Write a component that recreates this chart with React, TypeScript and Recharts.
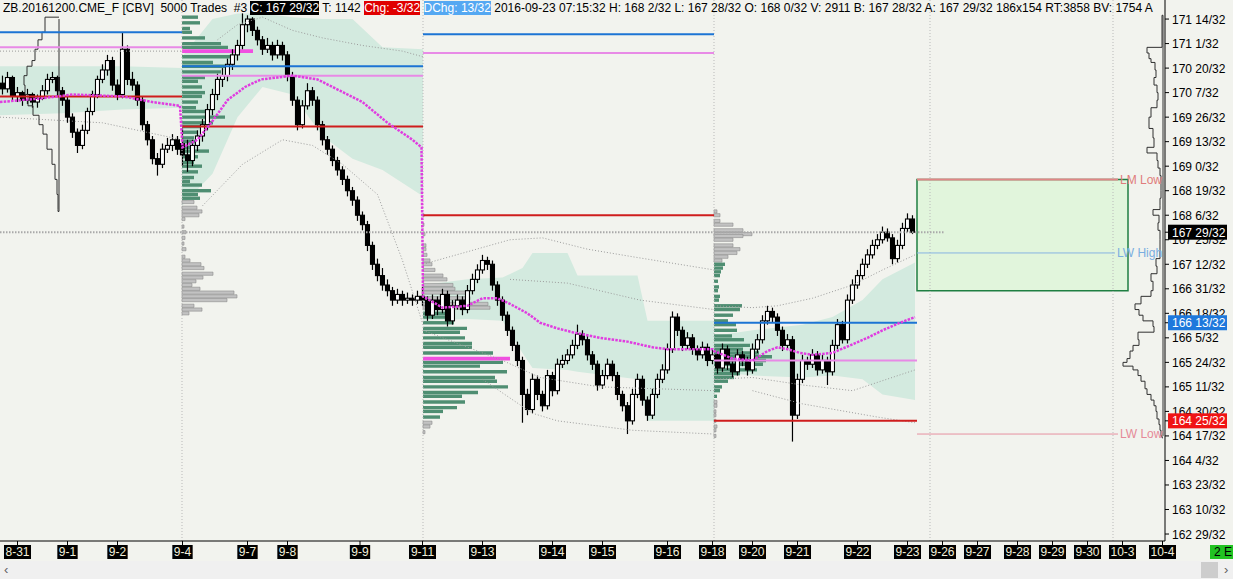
import { ComposedChart, Bar, Line, Area, XAxis, YAxis, ReferenceLine, ReferenceArea } from 'recharts';

// prices are kept in 32nds above the 162 handle (ZB tick = 1/32)
const HANDLE = 162;
const VOL_SCALE = 0.2; // profile volume -> bar slots

const dateTicks = [3, 13, 23, 36, 49, 57, 71.5, 84, 96, 110, 120, 133, 142, 150, 159, 171, 181, 188, 195, 203, 210, 217, 224, 232];
const dateLabels = ['8-31', '9-1', '9-2', '9-4', '9-7', '9-8', '9-9', '9-11', '9-13', '9-14', '9-15', '9-16', '9-18', '9-20', '9-21', '9-22', '9-23', '9-26', '9-27', '9-28', '9-29', '9-30', '10-3', '10-4'];
const priceTicks = [29, 42, 55, 68, 81, 94, 107, 120, 133, 146, 159, 172, 185, 198, 211, 224, 237, 250, 263, 276, 289, 302];
const markedPrices = [189, 141, 89];
const markedColors = ['#000000', '#1e78dc', '#f01414'];

const weekStarts = [0, 36, 84, 142];
const weekEdges = [-0.5, 35.9, 84.1, 142.3, 182.9];
const sessionLines = [35.9, 84.1, 142.3, 185.5, 222.1];

// [open, high, low, close]
const candlesAug28 = [
  [268, 272, 262, 265], [265, 274, 263, 271], [271, 272, 259, 261], [261, 266, 258, 263], [263, 264, 256, 259],
  [259, 265, 257, 262], [262, 263, 255, 258], [258, 262, 255, 260], [260, 267, 259, 264], [264, 273, 262, 270],
  [270, 274, 268, 271], [271, 272, 261, 264], [264, 266, 256, 259], [259, 261, 247, 250], [250, 252, 239, 242],
  [242, 244, 231, 235], [235, 246, 233, 243], [243, 255, 241, 253], [253, 264, 251, 262], [262, 272, 260, 270],
  [270, 278, 268, 275], [275, 283, 272, 280], [280, 282, 264, 267], [267, 270, 259, 262], [262, 295, 260, 286],
  [286, 288, 267, 270], [270, 274, 264, 267], [267, 269, 256, 259], [259, 261, 243, 246], [246, 248, 235, 238],
  [238, 240, 225, 228], [228, 231, 219, 225], [225, 236, 223, 233], [233, 239, 231, 235], [235, 241, 232, 238],
  [238, 240, 230, 233],
];
const candlesSep4 = [
  [236, 244, 224, 230], [230, 238, 221, 227], [227, 238, 224, 235], [235, 243, 232, 240], [240, 249, 237, 246],
  [246, 257, 243, 254], [254, 265, 251, 262], [262, 273, 259, 270], [270, 276, 266, 272], [272, 281, 269, 278],
  [278, 286, 275, 283], [283, 291, 280, 288], [288, 305, 286, 299], [299, 304, 295, 302], [302, 303, 293, 296],
  [296, 298, 288, 291], [291, 293, 283, 286], [286, 292, 284, 288], [288, 290, 280, 283], [283, 291, 281, 288],
  [288, 290, 280, 283], [283, 285, 269, 272], [272, 274, 256, 259], [259, 261, 243, 246], [246, 259, 244, 256],
  [256, 268, 254, 264], [264, 266, 256, 259], [259, 261, 243, 246], [246, 248, 235, 238], [238, 240, 230, 233],
  [233, 235, 224, 227], [227, 229, 219, 222], [222, 224, 214, 217], [217, 219, 208, 211], [211, 213, 203, 206],
  [206, 208, 195, 198], [198, 200, 190, 193], [193, 195, 179, 182], [182, 184, 169, 172], [172, 175, 163, 166],
  [166, 170, 158, 161], [161, 164, 155, 158], [158, 160, 150, 153], [153, 159, 151, 156], [156, 158, 150, 153],
  [153, 157, 151, 154], [154, 156, 150, 153], [153, 158, 151, 155],
];
const candlesSep11 = [
  [155, 160, 150, 153], [153, 155, 142, 145], [145, 156, 143, 153], [153, 155, 145, 148], [148, 159, 146, 156],
  [156, 158, 139, 142], [142, 153, 140, 150], [150, 156, 148, 153], [153, 155, 145, 148], [148, 161, 146, 158],
  [158, 167, 156, 164], [164, 172, 162, 169], [169, 177, 167, 174], [174, 176, 169, 172], [172, 174, 158, 161],
  [161, 163, 150, 153], [153, 155, 142, 145], [145, 147, 134, 137], [137, 139, 126, 129], [129, 131, 118, 121],
  [121, 123, 88, 103], [103, 106, 92, 95], [95, 114, 93, 111], [111, 113, 100, 103], [103, 105, 94, 97],
  [97, 116, 95, 113], [113, 115, 102, 105], [105, 122, 103, 119], [119, 124, 117, 121], [121, 127, 119, 124],
  [124, 132, 122, 129], [129, 140, 127, 135], [135, 137, 129, 132], [132, 134, 121, 124], [124, 126, 116, 119],
  [119, 121, 105, 108], [108, 116, 106, 113], [113, 122, 111, 119], [119, 121, 110, 113], [113, 115, 100, 103],
  [103, 105, 94, 97], [97, 99, 82, 89], [89, 106, 87, 103], [103, 114, 101, 111], [111, 113, 97, 100],
  [100, 102, 89, 92], [92, 106, 90, 103], [103, 114, 101, 111], [111, 119, 109, 116], [116, 130, 114, 127],
  [127, 147, 125, 144], [144, 146, 134, 137], [137, 139, 126, 129], [129, 136, 127, 133], [133, 135, 124, 127],
  [127, 129, 121, 124], [124, 131, 122, 128], [128, 130, 118, 121],
];
const candlesSep18 = [
  [121, 127, 119, 124], [124, 126, 114, 117], [117, 130, 115, 127], [127, 129, 116, 119], [119, 121, 112, 115],
  [115, 127, 113, 124], [124, 126, 118, 121], [121, 123, 113, 116], [116, 130, 114, 127], [127, 135, 125, 132],
  [132, 145, 130, 142], [142, 150, 140, 147], [147, 149, 141, 144], [144, 146, 134, 137], [137, 139, 126, 129],
  [129, 135, 127, 132], [132, 134, 78, 92], [92, 114, 90, 111], [111, 124, 109, 121], [121, 123, 116, 119],
  [119, 127, 117, 124], [124, 126, 113, 116], [116, 124, 114, 121], [121, 123, 108, 115], [115, 132, 113, 129],
  [129, 143, 127, 140], [140, 142, 130, 132], [132, 156, 130, 153], [153, 164, 151, 161], [161, 169, 159, 166],
  [166, 175, 164, 172], [172, 180, 170, 177], [177, 185, 175, 182], [182, 188, 180, 185], [185, 192, 183, 189],
  [189, 191, 184, 186], [186, 188, 172, 175], [175, 185, 173, 182], [182, 194, 180, 191], [191, 199, 189, 196],
  [196, 198, 188, 189],
];

// shaded 1-sigma zone per week: [slot, low, high]
const bandAug28 = [[-0.5, 251, 277], [12, 252, 277], [24, 254, 277], [35.9, 255, 276]];
const bandSep4 = [[35.9, 203, 282], [42, 220, 302], [47, 250, 305], [52, 266, 305], [58, 262, 303], [64, 240, 302], [70, 228, 302], [76, 222, 287], [84.1, 208, 286]];
const bandSep11 = [[84.1, 142, 161], [93, 143, 164], [100, 142, 165], [104, 125, 170], [106, 117, 178], [113, 116, 178], [115, 115, 166], [127, 111, 166], [129, 89, 142], [142.3, 89, 142]];
const bandSep18 = [[142.3, 115, 134], [150, 113, 137], [160, 112, 140], [166, 113, 144], [172, 111, 153], [176, 103, 164], [182.5, 100, 173]];

// dotted deviation lines: [slot, price]
const devLines = [
  [[-0.5, 285], [35.9, 285]],
  [[-0.5, 250], [20, 247], [35.9, 238]],
  [[43, 291], [47, 299], [52, 303], [58, 296], [64, 292], [72, 288], [80, 285], [84.1, 282]],
  [[40, 203], [48, 225], [56, 238], [62, 235], [68, 225], [75, 209], [80, 174], [84.1, 140]],
  [[84.1, 172], [101.5, 185], [108, 186], [117, 180], [126, 176], [142.3, 169]],
  [[101.5, 164], [113, 162], [127.5, 153], [142.3, 148]],
  [[84.1, 137], [100, 121], [107.5, 112], [119.5, 107], [142.3, 105]],
  [[96, 111], [106, 93], [111, 89], [126, 84], [142.3, 82]],
  [[142.3, 150], [150, 149], [155, 150], [162, 154], [170, 161], [176, 169], [182.5, 177]],
  [[142.3, 111], [150, 112], [160, 108], [170, 105], [182.5, 116]],
  [[150, 105], [160, 98], [175, 91], [182.5, 88]],
];

// weekly VWAP
const vwap = [
  [-0.5, 258], [8, 260], [14, 262], [24, 261], [30, 258], [35.5, 256],
  [36, 234], [39, 238], [42, 248], [45, 259], [48.5, 266], [51.7, 270], [55, 271], [58, 272], [63, 270], [67.5, 264], [72, 258], [77, 247], [82, 238], [83.8, 234],
  [84.1, 155], [88, 149], [93, 150], [96, 154], [99, 154], [101.5, 151], [105, 146], [107.5, 141], [111, 138], [114, 136], [119.5, 133], [125, 131], [130, 128], [133, 127], [138, 127], [142, 127],
  [142.3, 126], [146, 122], [150, 121], [153, 126], [155, 128], [157, 127], [159.5, 125], [162, 124], [166, 125], [169.5, 129], [173, 133], [176, 137], [179.5, 141], [182.5, 144],
];

// prior-week levels, one per week
const blueLevels = [295, 277, 294, 141];
const pinkLevels = [287, 272, 284, 121];
const redLevels = [261, 245, 198, 89];

// volume profiles: [price, volume]
const sep4Value = [[303, 16], [300, 18], [297, 8], [295, 10], [292, 23], [289, 39], [287, 46], [282, 51], [279, 31], [277, 45], [274, 39], [271, 23], [269, 16], [266, 20], [263, 23], [261, 20], [258, 16], [255, 14], [253, 23], [250, 43], [247, 31], [245, 20], [242, 16], [239, 12], [237, 18], [234, 8], [232, 27], [229, 16], [226, 12], [224, 20], [221, 16], [218, 12], [216, 8], [214, 20], [211, 29], [209, 16], [207, 18]];
const sep4Outer = [[205, 12], [202, 15], [200, 20], [198, 17], [196, 3], [192, 2], [189, 4], [186, 3], [183, 2], [180, 4], [176, 3], [174, 8], [172, 19], [170, 22], [167, 31], [165, 21], [163, 14], [161, 10], [159, 18], [157, 52], [155, 55], [153, 45], [150, 12], [148, 20], [146, 7]];
const sep4Poc = [[285, 71]];
const sep11Value = [[146, 30], [144, 30], [141, 31], [138, 44], [136, 37], [133, 42], [130, 49], [128, 49], [125, 70], [120, 80], [118, 57], [115, 84], [112, 72], [110, 74], [107, 85], [104, 55], [102, 39], [99, 42], [96, 34], [94, 20], [91, 17]];
const sep11Outer = [[198, 1], [193, 1], [188, 2], [182, 3], [180, 3], [177, 4], [174, 7], [172, 9], [169, 12], [166, 20], [164, 24], [161, 30], [159, 32], [157, 44], [154, 47], [151, 65], [149, 67], [88, 9], [86, 7], [83, 2]];
const sep11Poc = [[122, 87]];
const sep18Value = [[172, 11], [170, 9], [168, 7], [166, 6], [163, 4], [160, 5], [158, 4], [155, 6], [153, 5], [150, 28], [148, 26], [145, 19], [142, 14], [140, 22], [137, 23], [134, 18], [132, 30], [129, 36], [127, 29], [125, 45], [123, 58], [121, 52], [119, 49], [116, 43], [114, 26], [112, 20], [110, 14], [107, 8], [105, 6], [102, 3]];
const sep18Outer = [[200, 3], [198, 6], [195, 6], [193, 19], [190, 29], [188, 38], [187, 29], [185, 19], [182, 19], [180, 26], [178, 23], [176, 14], [174, 8], [99, 3], [97, 3], [94, 2], [92, 2], [89, 2], [86, 3], [84, 2], [81, 2]];

// outlined profiles (prior week on the left, whole view on the right)
const leftProfile = [[303, 14], [295, 17], [291, 21], [286, 24], [280, 27], [277, 32], [272, 35], [267, 34], [262, 31], [256, 26], [251, 20], [246, 16], [241, 12], [233, 7], [225, 4], [217, 2], [209, 1], [201, 1]];
const rightProfile = [[304, 1], [288, 1], [287, 16], [284, 14], [281, 12], [279, 8], [275, 7], [271, 9], [267, 6], [263, 5], [259, 6], [255, 12], [250, 14], [244, 10], [239, 9], [234, 16], [231, 6], [227, 5], [223, 3], [219, 2], [215, 2], [211, 2], [207, 3], [203, 3], [201, 10], [198, 4], [194, 5], [190, 3], [185, 3], [180, 3], [175, 7], [171, 6], [167, 12], [163, 10], [158, 12], [155, 22], [151, 28], [148, 24], [145, 20], [142, 10], [139, 9], [136, 25], [132, 24], [129, 30], [126, 33], [122, 36], [120, 40], [118, 30], [116, 25], [113, 22], [110, 18], [106, 16], [103, 12], [100, 9], [97, 7], [94, 6], [90, 4], [87, 3], [84, 2], [81, 1]];
const leftProfileBase = 11.3;
const rightProfileBase = 232.1;

// targets for next week
const lastPrice = 189;
const lmLow = 217;
const lwHigh = 178;
const lwLow = 82;
const boxBottom = 158;

const PAPER = '#f2f3ee';
const TEAL = '#d3eadf';
const BLUE = '#1c74d4';
const PINK = '#e88ae6';
const RED = '#cf1d1d';
const GREEN_BAR = '#4f8e72';
const GRAY_BAR = '#c2c2c2';
const POC = '#f050e0';
const FONT = '"Liberation Sans", Arial, sans-serif';

const candleRows = [candlesAug28, candlesSep4, candlesSep11, candlesSep18].flatMap((wk, w) =>
  wk.map(([o, h, l, c], k) => ({ i: weekStarts[w] + k, o, h, l, c, range: [l, h] }))
);
const bandRows = [bandAug28, bandSep4, bandSep11, bandSep18].map((b) => b.map(([i, lo, hi]) => ({ i, band: [lo, hi] })));
const devRows = devLines.map((d) => d.map(([i, v]) => ({ i, v })));
const vwapRows = vwap.map(([i, v]) => ({ i, v }));

const profiles = [
  { base: weekEdges[1], value: sep4Value, outer: sep4Outer, poc: sep4Poc },
  { base: weekEdges[2], value: sep11Value, outer: sep11Outer, poc: sep11Poc },
  { base: weekEdges[3], value: sep18Value, outer: sep18Outer, poc: [] as number[][] },
];

function outline(rows: number[][], base: number) {
  const pts = [{ i: base, v: rows[0][0] }];
  rows.forEach(([t, w], k) => {
    const next = k + 1 < rows.length ? rows[k + 1][0] : t - 1;
    const xi = base - w * VOL_SCALE;
    pts.push({ i: xi, v: t }, { i: xi, v: next });
  });
  pts.push({ i: base, v: rows[rows.length - 1][0] - 1 });
  return pts;
}

function fmtPrice(t: number) {
  return `${HANDLE + Math.floor(t / 32)} ${t % 32}/32`;
}

function Candle(props: any) {
  const { x, y, width, height, payload } = props;
  if (x == null || y == null) return null;
  const cx = x + width / 2;
  const span = payload.h - payload.l;
  const k = span > 0 ? height / span : 0;
  const yO = y + (payload.h - payload.o) * k;
  const yC = y + (payload.h - payload.c) * k;
  const up = payload.c >= payload.o;
  return (
    <g>
      <line x1={cx} x2={cx} y1={y} y2={y + height} stroke="#000" strokeWidth={1.2} />
      <rect x={cx - 2} y={Math.min(yO, yC)} width={4} height={Math.max(Math.abs(yC - yO), 1)} fill={up ? '#fff' : '#000'} stroke="#000" strokeWidth={1.1} />
    </g>
  );
}

function DateTick(props: any) {
  const { x, y, payload } = props;
  const label = dateLabels[dateTicks.indexOf(payload.value)] ?? '';
  const w = label.split('').reduce((s: number, ch: string) => s + (ch === '-' ? 4 : 6.67), 0) + 3;
  return (
    <g>
      <line x1={x} x2={x} y1={y - 4} y2={y} stroke="#000" />
      <rect x={x - w / 2} y={y} width={w} height={14} fill="#000" />
      <text x={x} y={y + 11} textAnchor="middle" fill="#f2f0dc" fontSize={12} fontFamily={FONT}>{label}</text>
    </g>
  );
}

function PriceTick(props: any) {
  const { x, y, payload } = props;
  const m = markedPrices.indexOf(payload.value);
  if (m >= 0) {
    return (
      <g>
        <rect x={x - 4} y={y - 7.5} width={59} height={15} fill={markedColors[m]} />
        <text x={x} y={y + 4.5} fill="#fff" fontSize={12} fontFamily={FONT}>{fmtPrice(payload.value)}</text>
      </g>
    );
  }
  return <text x={x} y={y + 4.5} fill="#000" fontSize={12} fontFamily={FONT}>{fmtPrice(payload.value)}</text>;
}

function hline(key: string, x1: number, x2: number, y: number, stroke: string, width: number, label?: any, dash?: string) {
  return (
    <ReferenceLine key={key} segment={[{ x: x1, y }, { x: x2, y }]} stroke={stroke} strokeWidth={width} strokeDasharray={dash} ifOverflow="visible" label={label} />
  );
}

const boxStyle = (bg: string, fg: string) => ({ background: bg, color: fg });

export default function App() {
  return (
    <div style={{ position: 'fixed', left: 0, top: 0, width: 1233, height: 579, background: PAPER, overflow: 'hidden', fontFamily: FONT }}>
      <ComposedChart width={1233} height={560} data={candleRows} margin={{ top: 0, right: 0, bottom: 0, left: 0 }}>
        <XAxis type="number" dataKey="i" domain={[-0.5, 232.5]} allowDataOverflow ticks={dateTicks} interval={0}
          tick={(p: any) => <DateTick {...p} />} tickLine={false} tickSize={4} tickMargin={0} axisLine={{ stroke: '#000' }} height={19} />
        <YAxis type="number" orientation="right" domain={[25.3, 312.1]} allowDataOverflow ticks={[...priceTicks, ...markedPrices]} interval={0}
          tick={(p: any) => <PriceTick {...p} />} tickSize={4} tickMargin={3} axisLine={{ stroke: '#000' }} tickLine={{ stroke: '#000' }} width={68} />

        {bandRows.map((rows, k) => (
          <Area key={`band${k}`} data={rows} dataKey="band" type="linear" fill={TEAL} fillOpacity={1} stroke="none" dot={false} activeDot={false} isAnimationActive={false} />
        ))}
        {devRows.map((rows, k) => (
          <Line key={`dev${k}`} data={rows} dataKey="v" type="linear" stroke="#9c9c9c" strokeWidth={1} strokeDasharray="1 2" dot={false} activeDot={false} isAnimationActive={false} />
        ))}
        {sessionLines.map((x) => (
          <ReferenceLine key={`s${x}`} x={x} stroke="#b9b9b9" strokeDasharray="1 2" />
        ))}

        {profiles.flatMap((p, w) => [
          ...p.outer.map(([t, v], k) => (
            <ReferenceArea key={`po${w}-${k}`} x1={p.base} x2={p.base + v * VOL_SCALE} y1={t - 0.85} y2={t + 0.85} fill={GRAY_BAR} fillOpacity={1} stroke="#8c8c8c" strokeWidth={0.6} ifOverflow="visible" />
          )),
          ...p.value.map(([t, v], k) => (
            <ReferenceArea key={`pv${w}-${k}`} x1={p.base} x2={p.base + v * VOL_SCALE} y1={t - 0.9} y2={t + 0.9} fill={GREEN_BAR} fillOpacity={1} stroke="none" ifOverflow="visible" />
          )),
          ...p.poc.map(([t, v], k) => (
            <ReferenceArea key={`pp${w}-${k}`} x1={p.base} x2={p.base + v * VOL_SCALE} y1={t - 1} y2={t + 1} fill={POC} fillOpacity={1} stroke="none" ifOverflow="visible" />
          )),
        ])}

        <Line data={outline(leftProfile, leftProfileBase)} dataKey="v" type="linear" stroke="#303030" strokeWidth={1} dot={false} activeDot={false} isAnimationActive={false} />
        <Line data={outline(rightProfile, rightProfileBase)} dataKey="v" type="linear" stroke="#303030" strokeWidth={1} dot={false} activeDot={false} isAnimationActive={false} />
        <ReferenceLine segment={[{ x: leftProfileBase, y: 302 }, { x: leftProfileBase, y: 200 }]} stroke="#303030" />
        <ReferenceLine segment={[{ x: rightProfileBase, y: 304 }, { x: rightProfileBase, y: 81 }]} stroke="#303030" />

        {hline('last', -0.5, 188.5, lastPrice, '#a9a9a9', 2, undefined, '1.5 1.5')}

        <Bar dataKey="range" shape={Candle} barSize={3} isAnimationActive={false} />

        {weekEdges.slice(0, 4).flatMap((x1, w) => [
          hline(`b${w}`, x1, weekEdges[w + 1], blueLevels[w], BLUE, 2),
          hline(`p${w}`, x1, weekEdges[w + 1], pinkLevels[w], PINK, 2),
          hline(`r${w}`, x1, weekEdges[w + 1], redLevels[w], RED, 2),
        ])}

        <Line data={vwapRows} dataKey="v" type="linear" stroke="#e03ce0" strokeWidth={2.5} strokeDasharray="2.5 1.2" dot={false} activeDot={false} isAnimationActive={false} />

        <ReferenceArea x1={182.9} x2={225.1} y1={boxBottom} y2={lmLow} fill="#e1f5dc" fillOpacity={1} stroke="#1f7f42" strokeWidth={1.5} ifOverflow="visible" />
        {hline('lm', 182.9, 223.1, lmLow, '#e08686', 2, { value: 'LM Low', position: 'right', fill: '#e07c7c', fontSize: 12, offset: 2 })}
        {hline('lwh', 182.9, 222.5, lwHigh, '#86b4e2', 1, { value: 'LW High', position: 'right', fill: '#7aaee0', fontSize: 12, offset: 2 })}
        {hline('lwl', 182.9, 223.1, lwLow, '#e690a0', 1, { value: 'LW Low', position: 'right', fill: '#e58a98', fontSize: 12, offset: 2 })}
      </ComposedChart>

      <div style={{ position: 'absolute', left: 3, top: 1, width: 1160, overflow: 'hidden', whiteSpace: 'pre', fontSize: 12, lineHeight: '15px', color: '#000' }}>
        {'ZB.20161200.CME_F [CBV]  5000 Trades  #3 '}
        <span style={boxStyle('#000', '#fff')}>C: 167 29/32</span>
        {' T: 1142 '}
        <span style={boxStyle('#e00000', '#fff')}>Chg: -3/32</span>
        {' '}
        <span style={boxStyle('#55a8f2', '#fff')}>DChg: 13/32</span>
        {' 2016-09-23 07:15:32 H: 168 2/32 L: 167 28/32 O: 168 0/32 V: 2911 B: 167 28/32 A: 167 29/32 186x154 RT:3858 BV: 1754 A'}
      </div>

      <div style={{ position: 'absolute', left: 1210, top: 545, width: 23, height: 14, background: '#22c322', fontSize: 12, lineHeight: '14px', whiteSpace: 'pre', overflow: 'hidden', paddingLeft: 4, boxSizing: 'border-box' }}>
        2 E
      </div>

      <div style={{ position: 'absolute', left: 0, top: 561, width: 1233, height: 18, background: '#f0f0f0' }}>
        <div style={{ position: 'absolute', left: 4, top: 1, fontSize: 13, color: '#606060' }}>‹</div>
        <div style={{ position: 'absolute', left: 1201, top: 1, width: 17, height: 16, background: '#cdcdcd' }} />
        <div style={{ position: 'absolute', left: 1224, top: 1, fontSize: 13, color: '#606060' }}>›</div>
      </div>
    </div>
  );
}
